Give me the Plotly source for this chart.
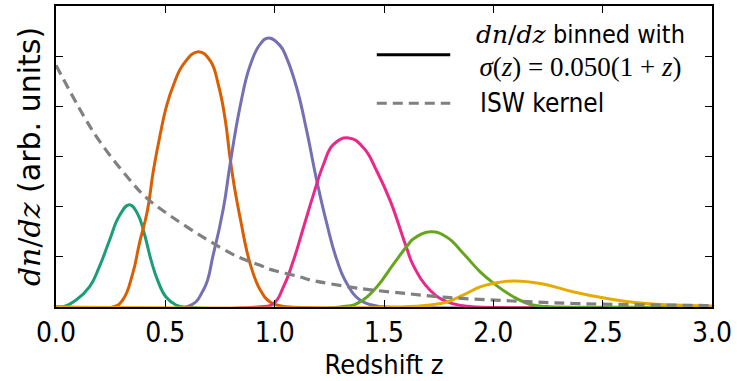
import plotly.graph_objects as go

# ---- data (redshift z, dn/dz in arbitrary units) ----
teal_z = [0.0, 0.03, 0.092, 0.153, 0.198, 0.244, 0.29, 0.336, 0.374, 0.404, 0.435, 0.465, 0.503, 0.549, 0.59, 3.0]
teal_y = [0.0, 0.0, 0.14, 0.40, 0.80, 1.32, 1.82, 2.04, 1.85, 1.46, 0.93, 0.53, 0.20, 0.04, 0.0, 0.0]

orange_z = [0.0, 0.26, 0.305, 0.351, 0.381, 0.418, 0.445, 0.476, 0.507, 0.537, 0.583, 0.651, 0.705, 0.743, 0.773, 0.796, 0.819, 0.842, 0.888, 0.934, 0.979, 1.03, 1.07, 3.0]
orange_y = [0.0, 0.0, 0.14, 0.67, 1.26, 1.92, 2.71, 3.43, 4.03, 4.42, 4.84, 5.09, 4.91, 4.42, 3.76, 2.97, 2.31, 1.78, 0.86, 0.34, 0.10, 0.02, 0.0, 0.0]

purple_z = [0.0, 0.598, 0.674, 0.72, 0.766, 0.796, 0.842, 0.888, 0.934, 0.972, 1.025, 1.056, 1.102, 1.147, 1.193, 1.239, 1.285, 1.33, 1.39, 1.467, 1.51, 3.0]
purple_y = [0.0, 0.0, 0.34, 1.06, 1.98, 2.84, 4.00, 4.82, 5.24, 5.36, 5.21, 4.95, 4.35, 3.50, 2.51, 1.65, 0.93, 0.47, 0.14, 0.02, 0.0, 0.0]

pink_z = [0.0, 0.92, 0.995, 1.04, 1.086, 1.132, 1.178, 1.223, 1.269, 1.338, 1.407, 1.467, 1.529, 1.60, 1.635, 1.712, 1.79, 1.87, 1.92, 3.0]
pink_y = [0.0, 0.0, 0.07, 0.40, 0.93, 1.59, 2.25, 2.84, 3.24, 3.37, 3.17, 2.71, 2.11, 1.22, 0.82, 0.33, 0.10, 0.02, 0.0, 0.0]

green_z = [0.0, 1.30, 1.39, 1.467, 1.544, 1.61, 1.635, 1.712, 1.788, 1.864, 1.94, 2.002, 2.093, 2.17, 2.24, 2.30, 3.0]
green_y = [0.0, 0.0, 0.10, 0.40, 0.86, 1.24, 1.36, 1.50, 1.39, 1.06, 0.70, 0.47, 0.20, 0.05, 0.01, 0.0, 0.0]

yellow_z = [0.0, 1.56, 1.712, 1.788, 1.864, 1.94, 2.002, 2.093, 2.215, 2.368, 2.52, 2.673, 2.825, 2.98, 3.0]
yellow_y = [0.0, 0.0, 0.04, 0.10, 0.24, 0.40, 0.47, 0.52, 0.47, 0.30, 0.17, 0.08, 0.04, 0.02, 0.02]

isw_z = [0.0, 0.125, 0.2, 0.334, 0.415, 0.522, 0.674, 0.827, 0.934, 0.979, 1.117, 1.162, 1.39, 1.62, 1.79, 2.09, 2.37, 2.97, 3.0]
isw_y = [4.82, 3.82, 3.30, 2.55, 2.17, 1.82, 1.39, 1.01, 0.83, 0.75, 0.60, 0.54, 0.37, 0.26, 0.19, 0.12, 0.07, 0.03, 0.03]

bins = [
    (teal_z, teal_y, "#1b9e77"),
    (orange_z, orange_y, "#d95f02"),
    (purple_z, purple_y, "#7570b3"),
    (pink_z, pink_y, "#e7298a"),
    (green_z, green_y, "#66a61e"),
    (yellow_z, yellow_y, "#e6ab02"),
]

x_ticks = [0.0, 0.5, 1.0, 1.5, 2.0, 2.5, 3.0]
x_ticklabels = ["0.0", "0.5", "1.0", "1.5", "2.0", "2.5", "3.0"]

MATH_WIDE = "DejaVu Serif, Liberation Serif, serif"
MATH = "Liberation Serif, DejaVu Serif, serif"
NARROW = "DejaVu Sans Condensed, DejaVu Sans, sans-serif"
SANS = "DejaVu Sans, sans-serif"

fig = go.Figure()
for z, y, c in bins:
    fig.add_trace(go.Scatter(x=z, y=y, mode="lines",
                             line=dict(color=c, width=3, shape="spline", smoothing=1.3),
                             showlegend=False, hoverinfo="skip"))
fig.add_trace(go.Scatter(x=isw_z, y=isw_y, mode="lines",
                         line=dict(color="#808080", width=3.2, dash="10px,6px", shape="spline", smoothing=1.0),
                         showlegend=False, hoverinfo="skip"))

# manual legend (matplotlib style, no frame)
fig.add_shape(type="line", xref="paper", yref="paper", x0=0.489, x1=0.601, y0=0.838, y1=0.838,
              line=dict(color="black", width=3))
fig.add_shape(type="line", xref="paper", yref="paper", x0=0.489, x1=0.601, y0=0.677, y1=0.677,
              line=dict(color="#808080", width=3, dash="10px,6px"))
fig.add_annotation(xref="paper", yref="paper", x=0.80, y=0.85, xanchor="center", yanchor="middle",
                   showarrow=False, align="center",
                   text=(f"<span style='font-family:{MATH_WIDE}'><i>dn</i>/<i>dz</i></span> binned with<br>"
                         f"<span style='font-family:{MATH};font-size:27px'><i>σ</i>(<i>z</i>) = 0.050(1 + <i>z</i>)</span>"),
                   font=dict(family=NARROW, size=25, color="black"))
fig.add_annotation(xref="paper", yref="paper", x=0.643, y=0.677, xanchor="left", yanchor="middle",
                   showarrow=False, text="ISW kernel",
                   font=dict(family=NARROW, size=26, color="black"))

fig.update_xaxes(range=[0, 3], tickvals=x_ticks, ticktext=x_ticklabels,
                 ticks="inside", ticklen=7, tickwidth=1, tickcolor="black",
                 showline=True, linecolor="black", linewidth=1.5, mirror="allticks",
                 showgrid=False, zeroline=False,
                 tickfont=dict(family=NARROW, size=28, color="black"),
                 title=dict(text="Redshift z", font=dict(family=NARROW, size=27, color="black"), standoff=5))
fig.update_yaxes(range=[0, 6], dtick=1, showticklabels=False,
                 ticks="inside", ticklen=7, tickwidth=1, tickcolor="black",
                 showline=True, linecolor="black", linewidth=1.5, mirror="allticks",
                 showgrid=False, zeroline=False,
                 title=dict(text=f"<span style='font-family:{MATH_WIDE}'><i>dn</i>/<i>dz</i></span> (arb. units)",
                            font=dict(family=SANS, size=30, color="black"), standoff=5))

fig.update_layout(width=737, height=381, margin=dict(l=56, r=25, t=4, b=74),
                  paper_bgcolor="white", plot_bgcolor="white")
fig.write_html("out.html")
